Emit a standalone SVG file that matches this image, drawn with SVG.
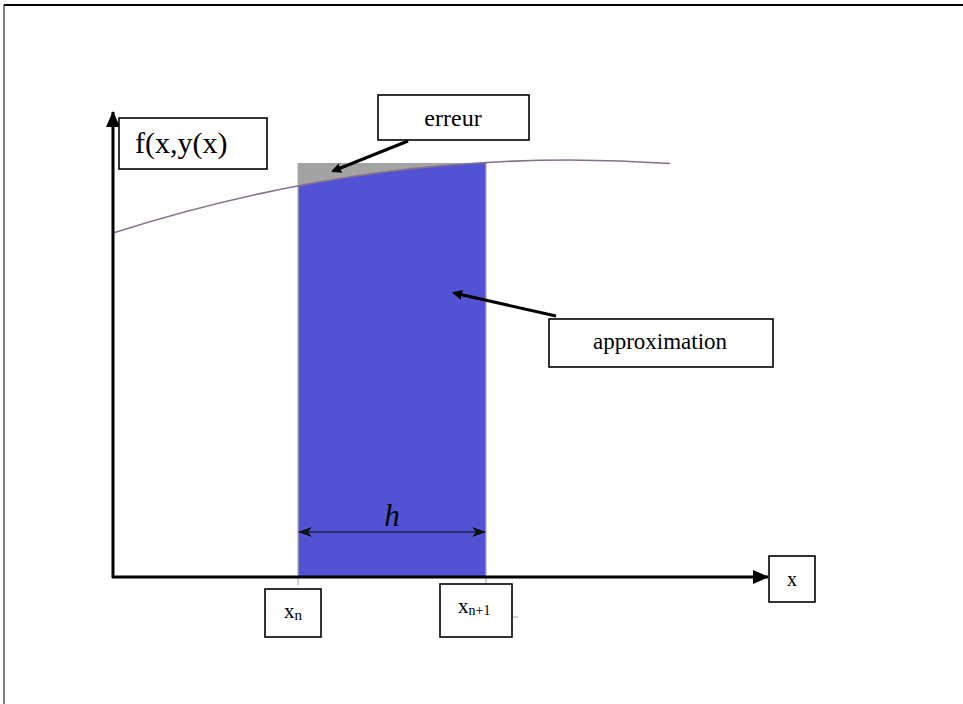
<svg xmlns="http://www.w3.org/2000/svg" width="963" height="704" viewBox="0 0 963 704">
<defs>
<style>
.box{fill:#fff;stroke:#000;stroke-width:1.6}
.t{font-family:"Liberation Serif","Times New Roman",serif;fill:#000}
.ax{stroke:#000;stroke-width:3;fill:none}
.ptr{stroke:#000;stroke-width:3;fill:none}
</style>
<marker id="ah" markerWidth="10" markerHeight="10" refX="8" refY="5" orient="auto" markerUnits="userSpaceOnUse" viewBox="0 0 10 10">
<path d="M0,0 L10,5 L0,10 Z" fill="#000"/>
</marker>
<marker id="axh" markerWidth="16" markerHeight="14" refX="15" refY="7" orient="auto" markerUnits="userSpaceOnUse" viewBox="0 0 16 14">
<path d="M0,0 L16,7 L0,14 Z" fill="#000"/>
</marker>
<marker id="hh" markerWidth="14" markerHeight="10" refX="13" refY="5" orient="auto-start-reverse" markerUnits="userSpaceOnUse" viewBox="0 0 14 10">
<path d="M0,0 L14,5 L0,10 L4,5 Z" fill="#111"/>
</marker>
</defs>
<rect width="963" height="704" fill="#fff"/>
<g id="frame">
<line x1="4" y1="5" x2="963" y2="5" stroke="#000" stroke-width="2"/>
<line x1="4" y1="5" x2="4" y2="704" stroke="#000" stroke-width="1"/>
</g>
<g id="area">
<rect x="298" y="163" width="188" height="414" fill="#a3a3a3"/>
<path d="M298,577 L298,185.9 Q392,168 486,162.5 L486,577 Z" fill="#5252d4"/>
<line x1="298" y1="163" x2="298" y2="585" stroke="#b0b0b0" stroke-width="1.2"/>
<line x1="486" y1="163" x2="486" y2="585" stroke="#b0b0b0" stroke-width="1.2"/>
<path d="M113,233 Q391.5,144 670,163.5" fill="none" stroke="#85708a" stroke-width="1.6"/>
<line x1="513" y1="617" x2="518" y2="617" stroke="#aaa" stroke-width="1"/>
</g>
<g id="connectors">
<line class="ax" x1="113" y1="578" x2="113" y2="112" marker-end="url(#axh)"/>
<line class="ax" x1="112" y1="577" x2="768" y2="577" marker-end="url(#axh)"/>
<line class="ptr" x1="408" y1="141" x2="333" y2="171" marker-end="url(#ah)"/>
<line class="ptr" x1="556" y1="316" x2="454" y2="293" marker-end="url(#ah)"/>
<line x1="299" y1="532" x2="485" y2="532" stroke="#111" stroke-width="1.2" marker-start="url(#hh)" marker-end="url(#hh)"/>
</g>
<g id="h-label">
<text class="t" x="392" y="526" font-size="31" font-style="italic" text-anchor="middle">h</text>
</g>
<g id="node-f">
<rect class="box" x="119" y="118" width="148" height="51"/>
<text class="t" x="135" y="153" font-size="30">f(x,y(x)</text>
</g>
<g id="node-erreur">
<rect class="box" x="378" y="95" width="151" height="45"/>
<text class="t" x="453" y="126" font-size="24" text-anchor="middle">erreur</text>
</g>
<g id="node-approx">
<rect class="box" x="549" y="319" width="224" height="48"/>
<text class="t" x="660" y="349" font-size="23" text-anchor="middle">approximation</text>
</g>
<g id="node-x">
<rect class="box" x="769" y="556" width="46" height="46"/>
<text class="t" x="792" y="586" font-size="20" text-anchor="middle">x</text>
</g>
<g id="node-xn">
<rect class="box" x="265" y="589" width="56" height="48"/>
<text class="t" x="284" y="618" font-size="21">x<tspan font-size="15" dy="2">n</tspan></text>
</g>
<g id="node-xn1">
<rect class="box" x="440" y="584" width="72" height="53"/>
<text class="t" x="458" y="613" font-size="21">x<tspan font-size="14" dy="2">n+1</tspan></text>
</g>
</svg>
